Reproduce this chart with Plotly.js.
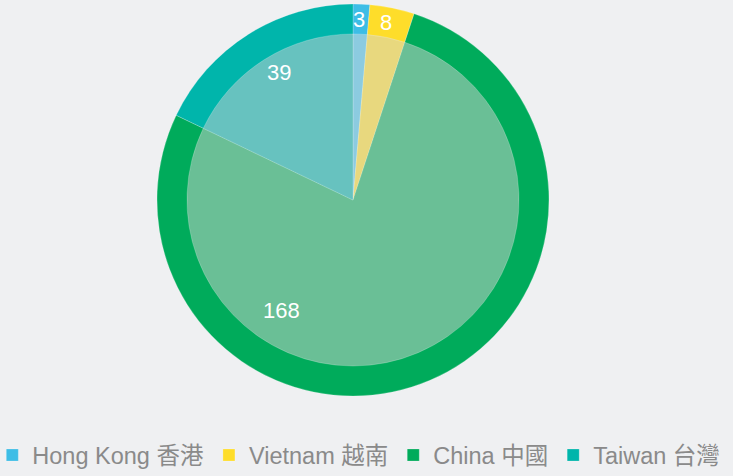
<!DOCTYPE html>
<html>
<head>
<meta charset="utf-8">
<script src="https://cdn.plot.ly/plotly-3.0.1.min.js"></script>
<style>html,body{margin:0;padding:0;background:#eff0f2;}</style>
</head>
<body>
<div id="chart" style="width:733px;height:476px;"></div>
<script>
const labels = ["Hong Kong 香港", "Vietnam 越南", "China 中國", "Taiwan 台灣"];
const values = [3, 8, 168, 39];
const outerColors = ["#3dbde6", "#fedd2a", "#00ab5b", "#00b5ab"];
const innerColors = ["#8ccbe0", "#e8d87e", "#6abf96", "#67c2bf"];
// label placement (style): distance from centre in px and angular shift in degrees
const labelRadius = [181, 181, 131, 148];
const labelShift = [-0.7, -1, 56, 2];

const font = "Liberation Sans, Arial, Noto Sans CJK TC, sans-serif";
const W = 733, H = 476;
const M = {l: 0, r: 0, t: 4, b: 80, autoexpand: false};
const pw = W - M.l - M.r, ph = H - M.t - M.b;
const cx = 353 / pw; // pie centre as fraction of plot width
const dom = [0, 2 * cx];

const sliceLine = {width: 0.6, color: "rgba(255,255,255,0.35)"};

const outer = {
  type: "pie",
  labels: labels,
  values: values,
  sort: false,
  direction: "clockwise",
  rotation: 0,
  marker: {colors: outerColors, line: sliceLine},
  domain: {x: dom, y: [0, 1]},
  textinfo: "none",
  hoverinfo: "label+value",
  showlegend: true
};
const inner = {
  type: "pie",
  labels: labels,
  values: values,
  sort: false,
  direction: "clockwise",
  rotation: 0,
  marker: {colors: innerColors, line: sliceLine},
  domain: {x: dom, y: [0.0765, 0.9235]},
  textinfo: "none",
  hoverinfo: "label+value",
  showlegend: false
};

// value labels placed from the data's cumulative angles
const total = values.reduce((a, b) => a + b, 0);
let cum = 0;
const annotations = values.map((v, i) => {
  const mid = (cum + v / 2) / total * 360 + labelShift[i];
  cum += v;
  const t = mid * Math.PI / 180;
  return {
    xref: "paper", yref: "paper",
    x: cx + labelRadius[i] * Math.sin(t) / pw,
    y: 0.5 + labelRadius[i] * Math.cos(t) / ph,
    text: String(v),
    showarrow: false,
    xanchor: "center", yanchor: "middle",
    font: {size: 22, color: "#ffffff", family: font}
  };
});

const layout = {
  width: W,
  height: H,
  margin: M,
  paper_bgcolor: "#eff0f2",
  plot_bgcolor: "#eff0f2",
  showlegend: true,
  annotations: annotations,
  legend: {
    orientation: "h",
    x: -0.0105, xanchor: "left",
    y: -0.095, yanchor: "top",
    font: {size: 23.5, color: "#8a8a8a", family: font},
    itemwidth: 30,
    traceorder: "normal",
    bgcolor: "rgba(0,0,0,0)"
  }
};

Plotly.newPlot("chart", [outer, inner], layout, {displayModeBar: false, staticPlot: true});
</script>
</body>
</html>
